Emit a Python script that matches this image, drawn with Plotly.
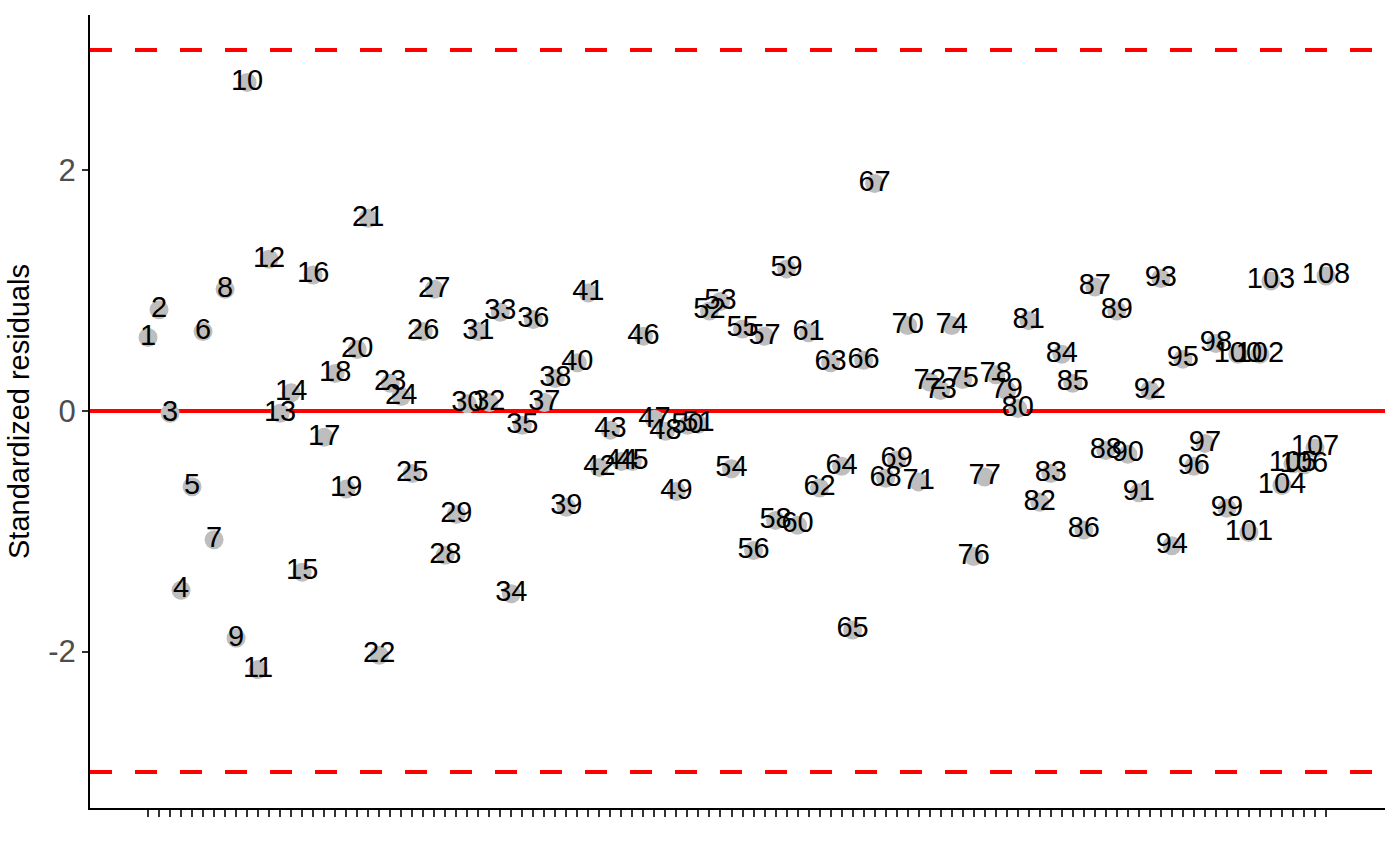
import plotly.graph_objects as go

obs = list(range(1, 109))
std_resid = [
    0.61, 0.84, -0.02, -1.49, -0.63, 0.66, -1.07, 1.01, -1.89, 2.73,
    -2.15, 1.26, -0.02, 0.15, -1.34, 1.13, -0.22, 0.31, -0.65, 0.51,
    1.60, -2.03, 0.23, 0.12, -0.52, 0.66, 1.01, -1.20, -0.86, 0.06,
    0.66, 0.07, 0.82, -1.52, -0.12, 0.76, 0.07, 0.27, -0.80, 0.40,
    0.98, -0.47, -0.16, -0.42, -0.42, 0.62, -0.07, -0.17, -0.67, -0.12,
    -0.11, 0.83, 0.91, -0.48, 0.68, -1.16, 0.62, -0.91, 1.18, -0.95,
    0.65, -0.64, 0.40, -0.46, -1.82, 0.42, 1.89, -0.56, -0.41, 0.71,
    -0.59, 0.24, 0.17, 0.71, 0.26, -1.21, -0.55, 0.30, 0.17, 0.02,
    0.75, -0.76, -0.52, 0.47, 0.23, -0.99, 1.03, -0.33, 0.83, -0.36,
    -0.68, 0.17, 1.10, -1.12, 0.43, -0.46, -0.27, 0.56, -0.81, 0.47,
    -1.01, 0.47, 1.08, -0.62, -0.44, -0.45, -0.31, 1.12,
]
labels = [str(i) for i in obs]
y_ticks = [-2, 0, 2]
ref_lines = [-3, 3]

fig = go.Figure()
fig.add_trace(go.Scatter(
    x=obs, y=std_resid, mode="markers+text", text=labels,
    textposition="middle center",
    textfont=dict(family="Liberation Sans, Arial", size=29, color="black"),
    marker=dict(color="#BEBEBE", size=19, line=dict(width=0)),
    hoverinfo="skip", showlegend=False, cliponaxis=False,
))

fig.add_hline(y=0, line=dict(color="#FF0000", width=4), layer="below")
for r in ref_lines:
    fig.add_hline(y=r, line=dict(color="#FF0000", width=4, dash="22px,23px"), layer="below")

fig.update_layout(
    width=1400, height=866,
    margin=dict(l=90, r=15, t=15, b=58),
    paper_bgcolor="white", plot_bgcolor="white",
    font=dict(family="Liberation Sans, Arial", color="black"),
)
fig.update_xaxes(
    range=[-4.27, 113.36], showgrid=False, zeroline=False,
    tickmode="array", tickvals=obs, ticktext=[""] * len(obs),
    ticks="outside", ticklen=7, tickwidth=1.5, tickcolor="#333333",
    showline=True, linecolor="black", linewidth=2,
)
fig.update_yaxes(
    range=[-3.30, 3.29], showgrid=False, zeroline=False,
    tickmode="array", tickvals=y_ticks, ticktext=[str(v) for v in y_ticks],
    ticks="outside", ticklen=6, tickwidth=1.5, tickcolor="#333333",
    tickfont=dict(size=31, color="#4D4D4D"),
    showline=True, linecolor="black", linewidth=2,
    title=dict(text="Standardized residuals", font=dict(size=29, color="black"), standoff=10),
)

fig.write_html("out.html")
